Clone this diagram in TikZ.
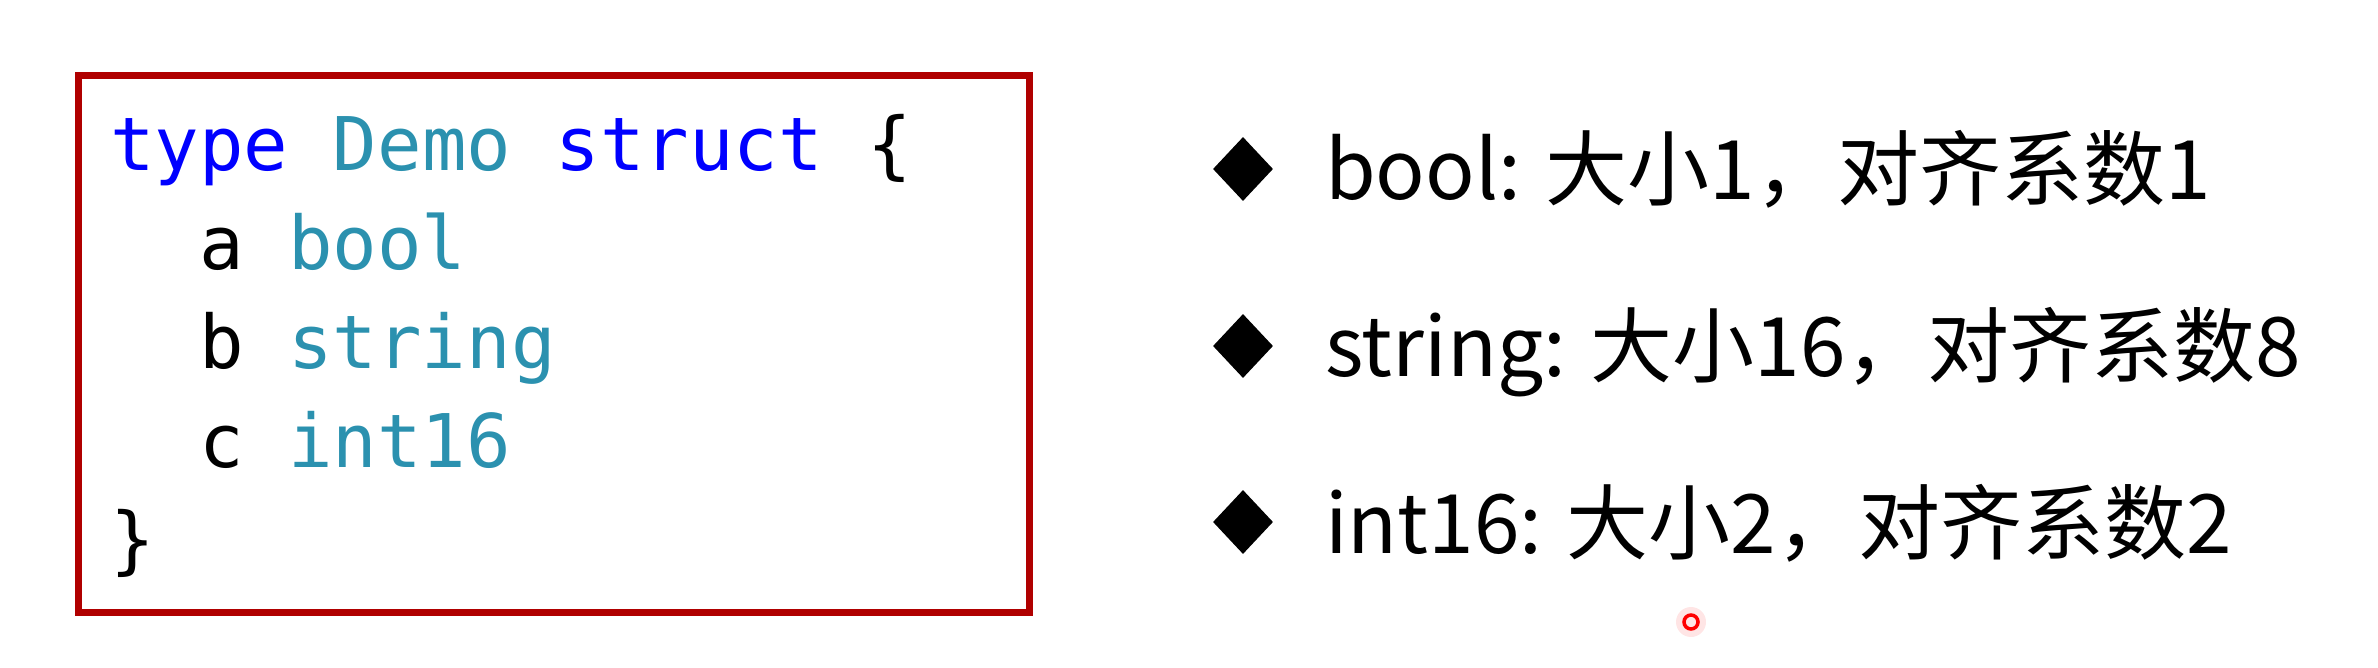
\documentclass[tikz,border=0pt]{standalone}
\usepackage{fontspec}
\setmonofont{DejaVu Sans Mono}
\newfontfamily\cjk{Noto Sans CJK SC}
\usetikzlibrary{shapes.geometric}
\definecolor{kwblue}{HTML}{0000FF}
\definecolor{tyteal}{HTML}{2B91AF}
\definecolor{boxred}{HTML}{B00000}
\newcommand{\kw}[1]{\textcolor{kwblue}{#1}}
\newcommand{\ty}[1]{\textcolor{tyteal}{#1}}

\begin{document}
\begin{tikzpicture}[x=1pt,y=-1pt,
  code/.style={anchor=base west,inner sep=0,font=\fontsize{74}{74}\selectfont\ttfamily},
  item/.style={anchor=base west,inner sep=0,font=\fontsize{82}{82}\selectfont\cjk},
  bullet/.style={diamond,fill=black,inner sep=0,minimum width=60,minimum height=64}]
  \useasboundingbox (0,0) rectangle (2378,668);

  % code box
  \node (frame) at (553.5,344) [draw=boxred,line width=7,minimum width=951,minimum height=536]{};

  \node (l1) at (110,171) [code]{\kw{type} \ty{Demo} \kw{struct} \{};
  \node (l2) at (199,270) [code]{a \ty{bool}};
  \node (l3) at (199,368) [code]{b \ty{string}};
  \node (l4) at (199,467) [code]{c \ty{int16}};
  \node (l5) at (110,565) [code]{\}};

  % list on the right
  \node (b1) at (1243,169) [bullet]{};
  \node (b2) at (1243,346) [bullet]{};
  \node (b3) at (1243,522) [bullet]{};

  \node (t1) at (1325,200) [item]{bool: 大小1，对齐系数1};
  \node (t2) at (1325,377) [item]{string: 大小16，对齐系数8};
  \node (t3) at (1325,553) [item]{int16: 大小2，对齐系数2};

  % pointer
  \node (dot) at (1691,622) [circle,fill=red!10,minimum size=30]{};
  \node (ring) at (dot) [circle,draw=red,line width=3.5,minimum size=14]{};

\end{tikzpicture}
\end{document}
